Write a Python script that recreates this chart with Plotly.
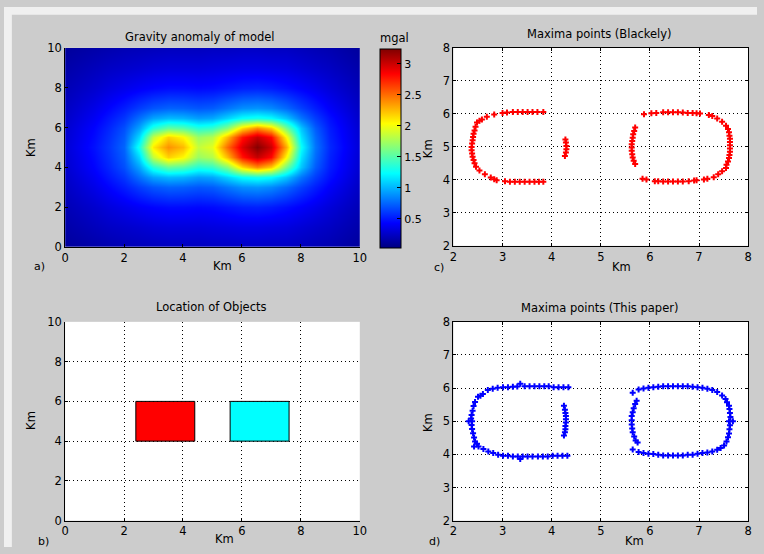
import plotly.graph_objects as go

W, H = 764, 554

# ---------------- data ----------------
# a) gravity anomaly grid (mgal), read from the colour map
grav_x = [0, 1, 1.5, 2, 2.5, 3, 3.5, 4, 4.5, 5, 5.5, 6, 6.5, 7, 7.5, 8, 8.5, 9, 10]
grav_y = [0, 1, 2, 3, 3.5, 4, 4.5, 5, 5.5, 6, 6.5, 7, 8, 9, 10]
grav_z = [
    [0.12, 0.16, 0.18, 0.20, 0.21, 0.22, 0.23, 0.23, 0.23, 0.24, 0.24, 0.25, 0.25, 0.24, 0.24, 0.22, 0.20, 0.18, 0.12],
    [0.16, 0.22, 0.25, 0.27, 0.29, 0.31, 0.32, 0.32, 0.32, 0.33, 0.34, 0.35, 0.35, 0.34, 0.33, 0.30, 0.27, 0.24, 0.16],
    [0.20, 0.28, 0.33, 0.37, 0.41, 0.44, 0.46, 0.46, 0.45, 0.46, 0.49, 0.52, 0.53, 0.51, 0.47, 0.42, 0.37, 0.31, 0.20],
    [0.24, 0.36, 0.44, 0.52, 0.62, 0.70, 0.74, 0.73, 0.70, 0.72, 0.80, 0.88, 0.90, 0.86, 0.76, 0.63, 0.52, 0.41, 0.24],
    [0.26, 0.40, 0.50, 0.60, 0.78, 0.95, 1.02, 1.00, 0.93, 0.96, 1.10, 1.25, 1.30, 1.24, 1.06, 0.80, 0.62, 0.47, 0.26],
    [0.28, 0.44, 0.55, 0.68, 0.95, 1.35, 1.55, 1.50, 1.35, 1.40, 1.65, 2.15, 2.40, 2.20, 1.60, 1.05, 0.72, 0.51, 0.28],
    [0.29, 0.46, 0.58, 0.72, 1.12, 1.85, 2.18, 2.05, 1.72, 1.80, 2.25, 2.78, 3.02, 2.82, 2.05, 1.15, 0.77, 0.53, 0.29],
    [0.30, 0.48, 0.60, 0.75, 1.30, 2.10, 2.38, 2.25, 1.85, 1.95, 2.50, 2.95, 3.22, 3.00, 2.30, 1.25, 0.80, 0.55, 0.30],
    [0.29, 0.46, 0.58, 0.72, 1.12, 1.85, 2.18, 2.05, 1.72, 1.80, 2.25, 2.78, 3.02, 2.82, 2.05, 1.15, 0.77, 0.53, 0.29],
    [0.28, 0.44, 0.55, 0.68, 0.95, 1.35, 1.55, 1.50, 1.35, 1.40, 1.65, 2.15, 2.40, 2.20, 1.60, 1.05, 0.72, 0.51, 0.28],
    [0.26, 0.40, 0.50, 0.60, 0.78, 0.95, 1.02, 1.00, 0.93, 0.96, 1.10, 1.25, 1.30, 1.24, 1.06, 0.80, 0.62, 0.47, 0.26],
    [0.24, 0.36, 0.44, 0.52, 0.62, 0.70, 0.74, 0.73, 0.70, 0.72, 0.80, 0.88, 0.90, 0.86, 0.76, 0.63, 0.52, 0.41, 0.24],
    [0.20, 0.28, 0.33, 0.37, 0.41, 0.44, 0.46, 0.46, 0.45, 0.46, 0.49, 0.52, 0.53, 0.51, 0.47, 0.42, 0.37, 0.31, 0.20],
    [0.16, 0.22, 0.25, 0.27, 0.29, 0.31, 0.32, 0.32, 0.32, 0.33, 0.34, 0.35, 0.35, 0.34, 0.33, 0.30, 0.27, 0.24, 0.16],
    [0.12, 0.16, 0.18, 0.20, 0.21, 0.22, 0.23, 0.23, 0.23, 0.24, 0.24, 0.25, 0.25, 0.24, 0.24, 0.22, 0.20, 0.18, 0.12],
]
cbar_ticks = [0.5, 1, 1.5, 2, 2.5, 3]
cbar_text = ["0.5", "1", "1.5", "2", "2.5", "3"]

# b) objects (rectangles)
obj_x0 = [2.4, 5.6]
obj_x1 = [4.4, 7.6]
obj_y0 = [4.0, 4.0]
obj_y1 = [6.0, 6.0]
obj_color = ["#ff0000", "#00ffff"]

# c) maxima points (Blackely)
c_x = [3.00, 3.09, 3.21, 3.31, 3.41, 3.51, 3.61, 3.71, 3.83,
       2.83, 2.68, 2.58, 2.53, 2.48, 2.45, 2.43, 2.41, 2.40, 2.39, 2.38, 2.37, 2.37, 2.38, 2.39, 2.41, 2.43, 2.46, 2.53, 2.64, 2.76, 2.83, 2.88,
       3.05, 3.15, 3.25, 3.35, 3.45, 3.55, 3.65, 3.74, 3.83,
       4.28, 4.29, 4.30, 4.30, 4.29, 4.27,
       5.70, 5.68, 5.66, 5.65, 5.64, 5.63, 5.63, 5.63, 5.64, 5.65, 5.67, 5.70,
       5.88, 6.03, 6.13, 6.27, 6.37, 6.47, 6.57, 6.67, 6.77, 6.87, 6.95, 7.02,
       7.20, 7.27, 7.37, 7.47, 7.55, 7.59, 7.61, 7.62, 7.63, 7.63, 7.63, 7.63, 7.63, 7.62, 7.61, 7.59, 7.56, 7.55, 7.47, 7.39, 7.30, 7.17, 7.10,
       6.95, 6.90, 6.79, 6.67, 6.57, 6.47, 6.37, 6.27, 6.17, 6.10, 5.93, 5.85]
c_y = [6.03, 6.04, 6.06, 6.06, 6.06, 6.06, 6.06, 6.06, 6.06,
       5.98, 5.91, 5.83, 5.79, 5.74, 5.61, 5.50, 5.40, 5.30, 5.20, 5.10, 5.00, 4.90, 4.80, 4.70, 4.60, 4.50, 4.40, 4.28, 4.17, 4.07, 4.02, 3.99,
       3.96, 3.94, 3.94, 3.94, 3.94, 3.94, 3.94, 3.94, 3.94,
       5.22, 5.13, 5.03, 4.93, 4.83, 4.72,
       5.59, 5.48, 5.38, 5.28, 5.18, 5.08, 4.98, 4.88, 4.78, 4.68, 4.58, 4.48,
       5.99, 6.02, 6.03, 6.05, 6.05, 6.05, 6.05, 6.04, 6.03, 6.03, 6.02, 6.01,
       5.97, 5.94, 5.86, 5.76, 5.64, 5.54, 5.44, 5.34, 5.25, 5.15, 5.05, 4.95, 4.85, 4.75, 4.66, 4.56, 4.46, 4.36, 4.26, 4.17, 4.08, 4.03, 4.01,
       3.99, 3.98, 3.96, 3.95, 3.95, 3.95, 3.95, 3.95, 3.96, 3.96, 4.01, 4.03]

# d) maxima points (This paper)
d_x = [2.70, 2.80, 2.90, 3.01, 3.11, 3.21, 3.30, 3.36, 3.45, 3.55, 3.65, 3.75, 3.85, 3.94, 4.04, 4.14, 4.24, 4.34,
       2.60, 2.55, 2.50, 2.44, 2.41, 2.39, 2.37, 2.36, 2.31, 2.38, 2.37, 2.38, 2.40, 2.42, 2.44, 2.48, 2.42, 2.51, 2.61, 2.71, 2.81,
       2.91, 3.01, 3.11, 3.21, 3.31, 3.36, 3.41, 3.51, 3.61, 3.72, 3.82, 3.92, 4.02, 4.12, 4.22, 4.32,
       4.25, 4.27, 4.28, 4.29, 4.29, 4.29, 4.28, 4.28, 4.27, 4.25,
       5.65, 5.73, 5.70, 5.67, 5.65, 5.63, 5.63, 5.63, 5.64, 5.65, 5.68, 5.71, 5.75, 5.65,
       5.77, 5.87, 5.97, 6.07, 6.17, 6.27, 6.37, 6.47, 6.57, 6.67, 6.77, 6.87, 6.97, 7.07, 7.17, 7.27, 7.37, 7.47, 7.54, 7.57, 7.61, 7.62, 7.63, 7.64,
       7.61, 7.69,
       7.63, 7.62, 7.61, 7.59, 7.56, 7.51, 7.44, 7.37, 7.27, 7.17, 7.07, 6.97, 6.87, 6.77, 6.67, 6.57, 6.47, 6.37, 6.27, 6.17, 6.07, 5.97, 5.87, 5.77]
d_y = [5.94, 5.98, 6.01, 6.03, 6.03, 6.04, 6.05, 6.13, 6.06, 6.06, 6.06, 6.06, 6.06, 6.06, 6.03, 6.03, 6.03, 6.03,
       5.82, 5.77, 5.74, 5.58, 5.46, 5.32, 5.19, 5.08, 5.00, 5.00, 4.89, 4.77, 4.64, 4.51, 4.39, 4.32, 4.24, 4.24, 4.16, 4.09, 4.04,
       3.99, 3.96, 3.96, 3.94, 3.94, 3.86, 3.94, 3.94, 3.94, 3.94, 3.94, 3.94, 3.96, 3.96, 3.96, 3.96,
       5.47, 5.35, 5.25, 5.16, 5.06, 4.96, 4.86, 4.76, 4.67, 4.57,
       5.86, 5.62, 5.52, 5.39, 5.27, 5.16, 5.03, 4.90, 4.78, 4.67, 4.54, 4.42, 4.36, 4.15,
       5.96, 5.99, 6.01, 6.03, 6.04, 6.06, 6.06, 6.06, 6.06, 6.06, 6.06, 6.04, 6.03, 6.01, 5.98, 5.94, 5.88, 5.78, 5.67, 5.57, 5.47, 5.37, 5.25, 5.13,
       5.00, 5.00,
       4.88, 4.76, 4.63, 4.52, 4.39, 4.27, 4.19, 4.14, 4.09, 4.06, 4.04, 4.02, 3.99, 3.99, 3.97, 3.97, 3.97, 3.97, 3.97, 3.99, 4.01, 4.02, 4.04, 4.07]

# ---------------- figure ----------------
FONT = "DejaVu Sans"
jet = [[0.0, "rgb(0,0,128)"], [0.125, "rgb(0,0,255)"], [0.375, "rgb(0,255,255)"],
       [0.625, "rgb(255,255,0)"], [0.875, "rgb(255,0,0)"], [1.0, "rgb(128,0,0)"]]


def px_x(p):
    return p / W


def px_y(p):
    return 1 - p / H


fig = go.Figure()

fig.add_trace(go.Heatmap(
    x=grav_x, y=grav_y, z=grav_z, zsmooth="best", colorscale=jet,
    zmin=0.03, zmax=3.24, xaxis="x", yaxis="y", hoverinfo="skip",
    colorbar=dict(
        x=px_x(381), xanchor="left", y=px_y(43), yanchor="top",
        len=204 / H, lenmode="fraction", thickness=21, thicknessmode="pixels",
        xpad=0, ypad=0, outlinecolor="black", outlinewidth=1,
        ticks="inside", ticklen=4, tickcolor="black",
        tickvals=cbar_ticks, ticktext=cbar_text,
        tickfont=dict(family=FONT, size=11, color="black"),
    ),
))

# objects
for x0, x1, y0, y1, col in zip(obj_x0, obj_x1, obj_y0, obj_y1, obj_color):
    fig.add_trace(go.Scatter(
        x=[x0, x1, x1, x0, x0], y=[y0, y0, y1, y1, y0], mode="lines",
        fill="toself", fillcolor=col, line=dict(color="black", width=1),
        xaxis="x3", yaxis="y3", showlegend=False, hoverinfo="skip"))

fig.add_trace(go.Scatter(x=c_x, y=c_y, mode="markers", xaxis="x2", yaxis="y2",
                         marker=dict(symbol="cross", size=5, color="#ff0000"),
                         showlegend=False))
fig.add_trace(go.Scatter(x=d_x, y=d_y, mode="markers", xaxis="x4", yaxis="y4",
                         marker=dict(symbol="cross", size=5, color="#0000ff"),
                         showlegend=False))

base = dict(showline=True, linecolor="black", linewidth=1, ticks="inside",
            ticklen=3, tickcolor="black", zeroline=False,
            tickfont=dict(family=FONT, size=11.5, color="black"))
grid = dict(showgrid=True, gridcolor="black", gridwidth=1, griddash="1px,3px")

dom_left = [px_x(62), px_x(361)]
dom_right = [px_x(456), px_x(755)]
dom_top = [px_y(246), px_y(42)]
dom_top_r = [px_y(245), px_y(42)]
dom_bot = [px_y(527), px_y(323)]

fig.update_layout(
    width=W, height=H, margin=dict(l=0, r=0, t=0, b=0),
    paper_bgcolor="#cccccc", plot_bgcolor="white", showlegend=False,
    xaxis=dict(base, domain=dom_left, range=[0, 10], dtick=2, anchor="y", showgrid=False),
    yaxis=dict(base, domain=dom_top, range=[0, 10], dtick=2, anchor="x", showgrid=False),
    xaxis2=dict(base, **grid, domain=dom_right, range=[2, 8], dtick=1, anchor="y2", mirror="ticks"),
    yaxis2=dict(base, **grid, domain=dom_top_r, range=[2, 8], dtick=1, anchor="x2", mirror="ticks"),
    xaxis3=dict(base, **grid, domain=dom_left, range=[0, 10], dtick=2, anchor="y3"),
    yaxis3=dict(base, **grid, domain=dom_bot, range=[0, 10], dtick=2, anchor="x3"),
    xaxis4=dict(base, **grid, domain=dom_right, range=[2, 8], dtick=1, anchor="y4", mirror="ticks"),
    yaxis4=dict(base, **grid, domain=dom_bot, range=[2, 8], dtick=1, anchor="x4", mirror="ticks"),
)

# light window border strips (top and left)
fig.add_shape(type="rect", xref="paper", yref="paper", x0=0, x1=1, y0=px_y(8), y1=1,
              fillcolor="#f0f0f0", line=dict(width=0), layer="below")
fig.add_shape(type="rect", xref="paper", yref="paper", x0=0, x1=px_x(8), y0=0, y1=1,
              fillcolor="#f0f0f0", line=dict(width=0), layer="below")

texts = [
    ("Gravity anomaly of model", 198, 31, 0, 11.5),
    ("Maxima points (Blackely)", 604, 28, 0, 11.5),
    ("Location of Objects", 210, 308, 0, 11.5),
    ("Maxima points (This paper)", 604, 309, 0, 11.5),
    ("mgal", 396, 32, 0, 11.5),
    ("Km", 222, 266, 0, 11.5),
    ("Km", 627, 267, 0, 11.5),
    ("Km", 224, 546, 0, 11.5),
    ("Km", 640, 548, 0, 11.5),
    ("Km", 28, 144, -90, 11.5),
    ("Km", 431, 145, -90, 11.5),
    ("Km", 28, 424, -90, 11.5),
    ("Km", 430, 426, -90, 11.5),
    ("a)", 36, 266, 0, 11),
    ("c)", 441, 267, 0, 11),
    ("b)", 40, 548, 0, 11),
    ("d)", 437, 548, 0, 11),
]
for t, x, y, ang, sz in texts:
    fig.add_annotation(text=t, x=px_x(x), y=px_y(y), xref="paper", yref="paper",
                       showarrow=False, xanchor="center", yanchor="middle",
                       textangle=ang, font=dict(family=FONT, size=sz, color="black"))

fig.write_html("out.html")
